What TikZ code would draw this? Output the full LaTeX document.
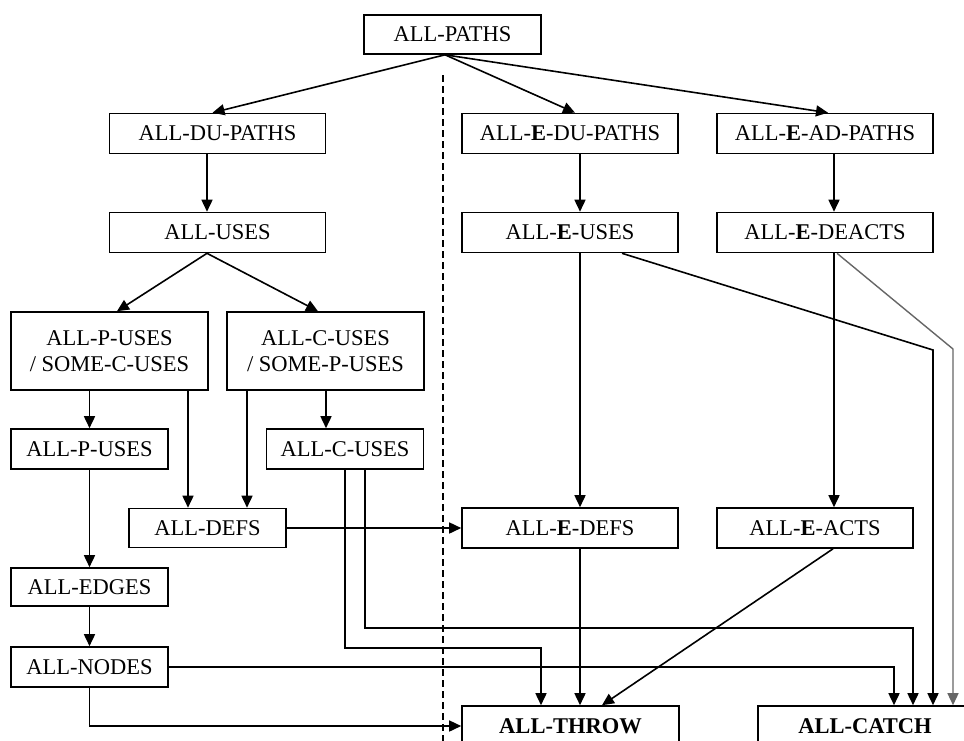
\documentclass[tikz,border=0pt]{standalone}
\usepackage{fontspec}
\setmainfont{Liberation Serif}
\usetikzlibrary{arrows.meta}

\begin{document}
\begin{tikzpicture}[x=1pt, y=-1pt,
  box/.style={draw, line width=1.6pt, rectangle, inner sep=0pt, align=center,
              font=\fontsize{22.5}{26}\selectfont, minimum height=40pt},
  wbox/.style={box, minimum width=216pt},
  nbox/.style={box, minimum width=157pt},
  tall/.style={box, minimum width=197pt, minimum height=78pt},
  arr/.style={line width=1.6pt, -{Triangle[width=11pt,length=12pt]}},
  lightarr/.style={arr, draw=black!60, line width=1.4pt}
]
\clip (0,0) rectangle (964,740);

% ----- nodes -----
\node[box, minimum width=177pt, minimum height=39pt] (paths) at (452.5,34.5) {ALL-PATHS};

\node[wbox] (dup)   at (217.5,133.5) {ALL-DU-PATHS};
\node[wbox] (uses)  at (217.5,232.5) {ALL-USES};
\node[wbox] (edup)  at (570,133.5) {ALL-\textbf{E}-DU-PATHS};
\node[wbox] (eadp)  at (825,133.5) {ALL-\textbf{E}-AD-PATHS};
\node[wbox] (euses) at (570,232.5) {ALL-\textbf{E}-USES};
\node[wbox] (edeacts) at (825,232.5) {ALL-\textbf{E}-DEACTS};

\node[tall] (pss) at (109.5,351) {ALL-P-USES\\/ SOME-C-USES};
\node[tall] (css) at (325.5,351) {ALL-C-USES\\/ SOME-P-USES};

\node[nbox] (puses) at (89.5,449) {ALL-P-USES};
\node[nbox] (cuses) at (345,449) {ALL-C-USES};
\node[nbox, minimum height=39pt] (defs) at (207.5,528) {ALL-DEFS};
\node[nbox, minimum height=38pt] (edges) at (89.5,587) {ALL-EDGES};
\node[nbox] (nodesb) at (89.5,667) {ALL-NODES};

\node[wbox] (edefs) at (570,528) {ALL-\textbf{E}-DEFS};
\node[box, minimum width=196pt] (eacts) at (815,528) {ALL-\textbf{E}-ACTS};

\node[box, minimum width=217pt] (throw) at (570.5,726) {\textbf{ALL-THROW}};
\node[box, minimum width=214pt] (catch) at (865,726) {\textbf{ALL-CATCH}};

% ----- dividing line -----
\coordinate (divtop) at (443,75);
\draw[line width=1.2pt, dash pattern=on 7pt off 4pt] (divtop) -- ++(0,680);

% ----- connectors -----
\coordinate (psrc) at ([xshift=-7.5pt]paths.south);
\draw[arr] (psrc) -- ([xshift=-5pt]dup.north);
\draw[arr] (psrc) -- ([xshift=5pt]edup.north);
\draw[arr] (psrc) -- ([xshift=3pt]eadp.north);

\draw[arr] ([xshift=-10.5pt]dup.south) -- ([xshift=-10.5pt]uses.north);
\draw[arr] ([xshift=-10.5pt]uses.south) -- ([xshift=7.5pt]pss.north);
\draw[arr] ([xshift=-10.5pt]uses.south) -- ([xshift=-7.5pt]css.north);

\draw[arr] (pss.south -| puses.north) -- (puses.north);
\draw[arr] ([xshift=78.5pt]pss.south) -- ([xshift=-19.5pt]defs.north);
\draw[arr] ([xshift=-78.5pt]css.south) -- ([xshift=39.5pt]defs.north);
\draw[arr] ([xshift=0.5pt]css.south) -- ([xshift=-19pt]cuses.north);

\draw[arr] (puses.south) -- (edges.north);
\draw[arr] (edges.south) -- (nodesb.north);

\draw[arr] (defs.east) -- (edefs.west);

\draw[arr] (cuses.south) -- ++(0,178) -| ([xshift=-29.5pt]throw.north);
\draw[arr] ([xshift=20pt]cuses.south) -- ++(0,158) -| ([xshift=48pt]catch.north);

\draw[arr] (nodesb.east) -| ([xshift=29pt]catch.north);
\draw[arr] (nodesb.south) |- (throw.west);

\draw[arr] ([xshift=10pt]edup.south) -- ([xshift=10pt]euses.north);
\draw[arr] ([xshift=9pt]eadp.south) -- ([xshift=9pt]edeacts.north);
\draw[arr] ([xshift=10pt]euses.south) -- ([xshift=10pt]edefs.north);
\draw[arr] ([xshift=9pt]edeacts.south) -- ([xshift=19pt]eacts.north);

\draw[arr] ([xshift=10pt]edefs.south) -- ([xshift=9.5pt]throw.north);
\draw[arr] ([xshift=18pt]eacts.south) -- ([xshift=31.5pt]throw.north);

\coordinate (bendA) at (933,350);
\coordinate (bendB) at (953,349);
\draw[arr] ([xshift=52pt]euses.south) -- (bendA) -- ([xshift=68pt]catch.north);
\draw[lightarr] ([xshift=12pt]edeacts.south) -- (bendB) -- ([xshift=88pt]catch.north);
\end{tikzpicture}
\end{document}
